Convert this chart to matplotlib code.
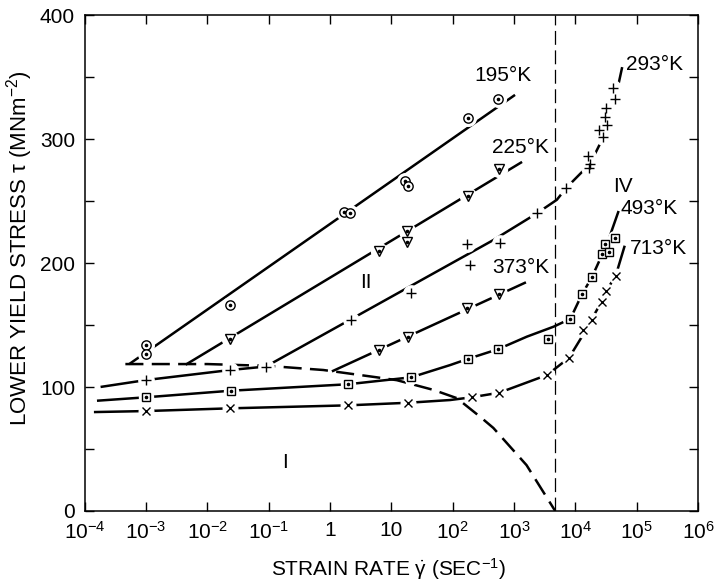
import matplotlib
matplotlib.use("Agg")
import matplotlib.pyplot as plt

plt.rcParams['font.family'] = ['Liberation Sans', 'DejaVu Sans']
plt.rcParams['font.size'] = 15
plt.rcParams['mathtext.fontset'] = 'custom'
plt.rcParams['mathtext.rm'] = 'Liberation Sans'
plt.rcParams['mathtext.it'] = 'Liberation Sans:italic'
plt.rcParams['mathtext.default'] = 'regular'
plt.rcParams['lines.scale_dashes'] = False

# measured points: strain rate (1/s) and lower yield stress (MN/m^2)
rate_195 = [1e-3, 1e-3, 2.3e-2, 1.7, 2.1, 17, 19, 178, 550]
tau_195 = [134, 127, 166, 241, 240, 266, 262, 317, 332]

rate_225 = [2.3e-2, 6.4, 18, 18, 175, 575]
tau_225 = [139, 210, 226, 217, 254, 276]

rate_293 = [1e-3, 2.35e-2, 9e-2, 2.2, 21, 170, 195, 590, 2.35e3, 7.1e3,
            1.62e4, 1.74e4, 1.7e4, 2.45e4, 2.8e4, 3.16e4, 3.0e4, 3.24e4, 4.17e4, 4.47e4]
tau_293 = [105.6, 113.7, 116.4, 154.3, 176, 215, 198, 216, 240, 260.5,
           286.5, 280, 277, 307, 302, 325, 318, 311, 341, 332]

rate_373 = [6.4, 19, 174, 575]
tau_373 = [130, 140.6, 164, 175]

rate_493 = [1e-3, 2.4e-2, 1.95, 21, 178, 550, 3.55e3, 8.3e3, 1.29e4, 1.86e4,
            2.75e4, 3.0e4, 3.55e4, 4.4e4]
tau_493 = [91.7, 97, 102.2, 107.8, 122.7, 130.5, 139, 155, 175, 188.5,
           207, 215, 209, 220]

rate_713 = [1e-3, 2.35e-2, 1.95, 19, 204, 575, 3.47e3, 7.9e3, 1.35e4, 1.86e4,
            2.7e4, 3.16e4, 4.57e4]
tau_713 = [80.6, 82.8, 85.2, 87.3, 91.7, 95.4, 109.7, 123.6, 146, 154,
           168.8, 177.4, 189.5]

# drawn curves
line195_rate = [5.5e-4, 1.0e3]
line195_tau = [119, 335]
line225_rate = [4.6e-3, 1.3e3]
line225_tau = [118.5, 281]
line373_rate = [1.12, 1.5e3]
line373_tau = [113, 184]
curve293_rate = [1.9e-4, 1e-3, 2.35e-2, 9e-2, 460, 2.35e3, 5e3, 7.1e3, 1e4,
                 1.74e4, 2.7e4, 3.7e4, 4.7e4, 5.75e4]
curve293_tau = [100.2, 105.6, 113.7, 116.5, 218.5, 240, 251, 260.5, 268,
                280, 299, 318, 337, 357]
curve493_rate = [1.66e-4, 1e-3, 2.4e-2, 1.95, 21, 91, 178, 550, 1.62e3, 4.4e3,
                 8.3e3, 1.29e4, 1.86e4, 2.75e4, 3.55e4, 5e4]
curve493_tau = [89, 91.7, 97, 102.2, 107.8, 117.7, 122.7, 130.5, 140.6, 148.6,
                155, 175, 188.5, 207, 220, 241]
curve713_rate = [1.48e-4, 1e-3, 2.35e-2, 1.95, 19, 91, 204, 575, 3.47e3, 7.9e3,
                 1.26e4, 1.86e4, 2.7e4, 3.16e4, 4.57e4, 6.3e4]
curve713_tau = [79.8, 80.6, 82.8, 85.2, 87.3, 89.5, 91.7, 95.4, 109.7, 123.6,
                140, 155, 169, 177, 190, 213]
boundary_rate = [4.6e-4, 1e-2, 0.1, 0.78, 5.8, 12.3, 49, 117, 280, 460, 1.6e3, 4.7e3]
boundary_tau = [118.5, 118.5, 117, 113.7, 107.8, 105.5, 97.6, 91, 76, 67, 37, 0]
limit_rate = 4.7e3

xticks = [1e-4, 1e-3, 1e-2, 1e-1, 1, 10, 1e2, 1e3, 1e4, 1e5, 1e6]
xticklabels = ['$10^{-4}$', '$10^{-3}$', '$10^{-2}$', '$10^{-1}$', '1', '10',
               '$10^{2}$', '$10^{3}$', '$10^{4}$', '$10^{5}$', '$10^{6}$']


def draw_markers(ax, x, y, marker, size, dot=False):
    ax.plot(x, y, ls='none', marker='o', ms=size + 4.5, mfc='white', mec='white', zorder=3)
    ax.plot(x, y, ls='none', marker=marker, ms=size, mfc='white', mec='black',
            mew=1.0, zorder=4)
    if dot:
        ax.plot(x, y, ls='none', marker='o', ms=1.6, mfc='black', mec='black', zorder=5)


fig = plt.figure(figsize=(7.15, 5.82), dpi=100)
ax = fig.add_axes([0.1185, 0.122, 0.8577, 0.8522])

lw = 1.8
ax.plot(line195_rate, line195_tau, color='black', lw=lw, zorder=2)
ax.plot(line225_rate, line225_tau, color='black', lw=lw, zorder=2)
ax.plot(line373_rate, line373_tau, color='black', lw=lw, zorder=2)
ax.plot(curve293_rate, curve293_tau, color='black', lw=lw, zorder=2)
ax.plot(curve493_rate, curve493_tau, color='black', lw=lw, zorder=2)
ax.plot(curve713_rate, curve713_tau, color='black', lw=lw, zorder=2)
ax.plot(boundary_rate, boundary_tau, color='black', lw=lw, dashes=(13, 6), zorder=2)
ax.plot([limit_rate, limit_rate], [0, 400], color='black', lw=0.9, dashes=(10, 4), zorder=2)

draw_markers(ax, rate_195, tau_195, 'o', 6.7, dot=True)
draw_markers(ax, rate_225, tau_225, 'v', 7.0, dot=True)
draw_markers(ax, rate_373, tau_373, 'v', 7.0, dot=True)
draw_markers(ax, rate_293, tau_293, '+', 6.5)
draw_markers(ax, rate_493, tau_493, 's', 5.6, dot=True)
draw_markers(ax, rate_713, tau_713, 'x', 6.0)

ax.text(660, 351, '195°K', ha='center', va='center')
ax.text(1260, 293, '225°K', ha='center', va='center')
ax.text(1290, 196, '373°K', ha='center', va='center')
ax.text(1.95e5, 360, '293°K', ha='center', va='center')
ax.text(6.0e4, 262, 'IV', ha='center', va='center')
ax.text(1.62e5, 244, '493°K', ha='center', va='center')
ax.text(2.3e5, 212, '713°K', ha='center', va='center')
ax.text(3.87, 184, 'II', ha='center', va='center')
ax.text(0.186, 39, 'I', ha='center', va='center')

ax.set_xscale('log')
ax.set_xlim(1e-4, 1e6)
ax.set_ylim(0, 400)
ax.set_xticks(xticks)
ax.set_xticklabels(xticklabels)
ax.minorticks_off()
ax.set_yticks(range(0, 401, 50))
ax.set_yticklabels([str(v) if v % 100 == 0 else '' for v in range(0, 401, 50)])
ax.tick_params(direction='in', length=6.5, width=1.0, top=True, right=True,
               labelsize=15)
ax.tick_params(axis='x', pad=7)
ax.tick_params(axis='y', pad=7)
for s in ax.spines.values():
    s.set_linewidth(1.1)

ax.set_xlabel('STRAIN RATE $\\dot{\\gamma}$ (SEC$^{-1}$)', fontsize=15)
ax.xaxis.set_label_coords(0.496, -0.118)
ax.xaxis.label.set_va('center')
ax.set_ylabel('LOWER YIELD STRESS τ (MNm$^{-2}$)', fontsize=16)
ax.yaxis.set_label_coords(-0.106, 0.53)
ax.yaxis.label.set_va('center')

fig.savefig('out.png', dpi=100)
